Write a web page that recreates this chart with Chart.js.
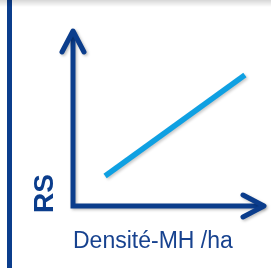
<!DOCTYPE html>
<html><head><meta charset="utf-8">
<script src="https://cdn.jsdelivr.net/npm/chart.js@4"></script>
<style>
html,body{margin:0;padding:0;background:#fff;}
#wrap{position:relative;width:271px;height:268px;overflow:hidden;background:#fff;}
#bar{position:absolute;left:7px;top:0;width:5px;height:268px;background:#0b3d8c;}
#shade{position:absolute;left:0;top:0;width:271px;height:7px;background:linear-gradient(to bottom,rgba(0,0,0,0.16),rgba(0,0,0,0));}
canvas{position:absolute;left:0;top:0;}
</style></head>
<body><div id="wrap"><canvas id="c" width="271" height="268"></canvas><div id="bar"></div><div id="shade"></div></div>
<script>
// Data
const xLabel = 'Densité-MH /ha';
const yLabel = 'RS';
const densite = [1.68, 9.0];
const rs = [1.71, 7.49];
const xRange = [0, 10];
const yRange = [-0.4, 10];

const navy = '#0b3d8c';
const lightBlue = '#0fa0e2';

const axisArrows = {
  id: 'axisArrows',
  beforeDatasetsDraw(chart) {
    const {ctx, scales: {x, y}} = chart;
    const x0 = x.getPixelForValue(0), y0 = y.getPixelForValue(0);
    const xEnd = x.getPixelForValue(x.max), yEnd = y.getPixelForValue(y.max);
    ctx.save();
    ctx.shadowColor = 'rgba(0,0,0,0.25)'; ctx.shadowBlur = 3;
    ctx.shadowOffsetX = 1.5; ctx.shadowOffsetY = 1.5;
    ctx.strokeStyle = navy; ctx.lineWidth = 5;
    ctx.lineJoin = 'miter'; ctx.lineCap = 'butt';
    ctx.beginPath(); ctx.moveTo(x0, yEnd); ctx.lineTo(x0, y0); ctx.lineTo(xEnd, y0); ctx.stroke();
    ctx.lineCap = 'round'; ctx.lineJoin = 'round';
    const L = 21, W = 11;
    ctx.beginPath(); ctx.moveTo(x0 - W, yEnd + L); ctx.lineTo(x0, yEnd); ctx.lineTo(x0 + W, yEnd + L); ctx.stroke();
    ctx.beginPath(); ctx.moveTo(xEnd - L, y0 - W); ctx.lineTo(xEnd, y0); ctx.lineTo(xEnd - L, y0 + W); ctx.stroke();
    ctx.restore();
  },
  beforeDatasetDraw(chart) {
    const ctx = chart.ctx;
    ctx.save();
    ctx.shadowColor = 'rgba(0,0,0,0.22)'; ctx.shadowBlur = 3;
    ctx.shadowOffsetX = 1.5; ctx.shadowOffsetY = 1.5;
  },
  afterDatasetDraw(chart) { chart.ctx.restore(); }
};

new Chart(document.getElementById('c'), {
  type: 'scatter',
  data: {
    datasets: [{
      data: densite.map((v, i) => ({x: v, y: rs[i]})),
      showLine: true,
      borderColor: lightBlue,
      borderWidth: 5.5,
      borderCapStyle: 'butt',
      pointRadius: 0,
      clip: false
    }]
  },
  options: {
    responsive: false,
    animation: false,
    events: [],
    layout: {autoPadding: false, padding: {left: 20, top: 31, right: 7, bottom: 0}},
    plugins: {legend: {display: false}, tooltip: {enabled: false}},
    scales: {
      x: {
        type: 'linear', min: xRange[0], max: xRange[1],
        grid: {display: false, drawTicks: false}, border: {display: false},
        ticks: {display: false},
        title: {display: true, text: xLabel, align: 'start', color: '#17428f',
          font: {family: '"Liberation Sans", Arial, sans-serif', size: 23, lineHeight: 1.2},
          padding: {top: 14.4, bottom: 13}}
      },
      y: {
        type: 'linear', min: yRange[0], max: yRange[1],
        grid: {display: false, drawTicks: false}, border: {display: false},
        ticks: {display: false},
        title: {display: true, text: yLabel, align: 'start', color: navy,
          font: {family: '"Liberation Sans", Arial, sans-serif', size: 28, weight: 'bold', lineHeight: 1.2},
          padding: {top: 8.2, bottom: 11.2}}
      }
    }
  },
  plugins: [axisArrows]
});
</script>
</body></html>
